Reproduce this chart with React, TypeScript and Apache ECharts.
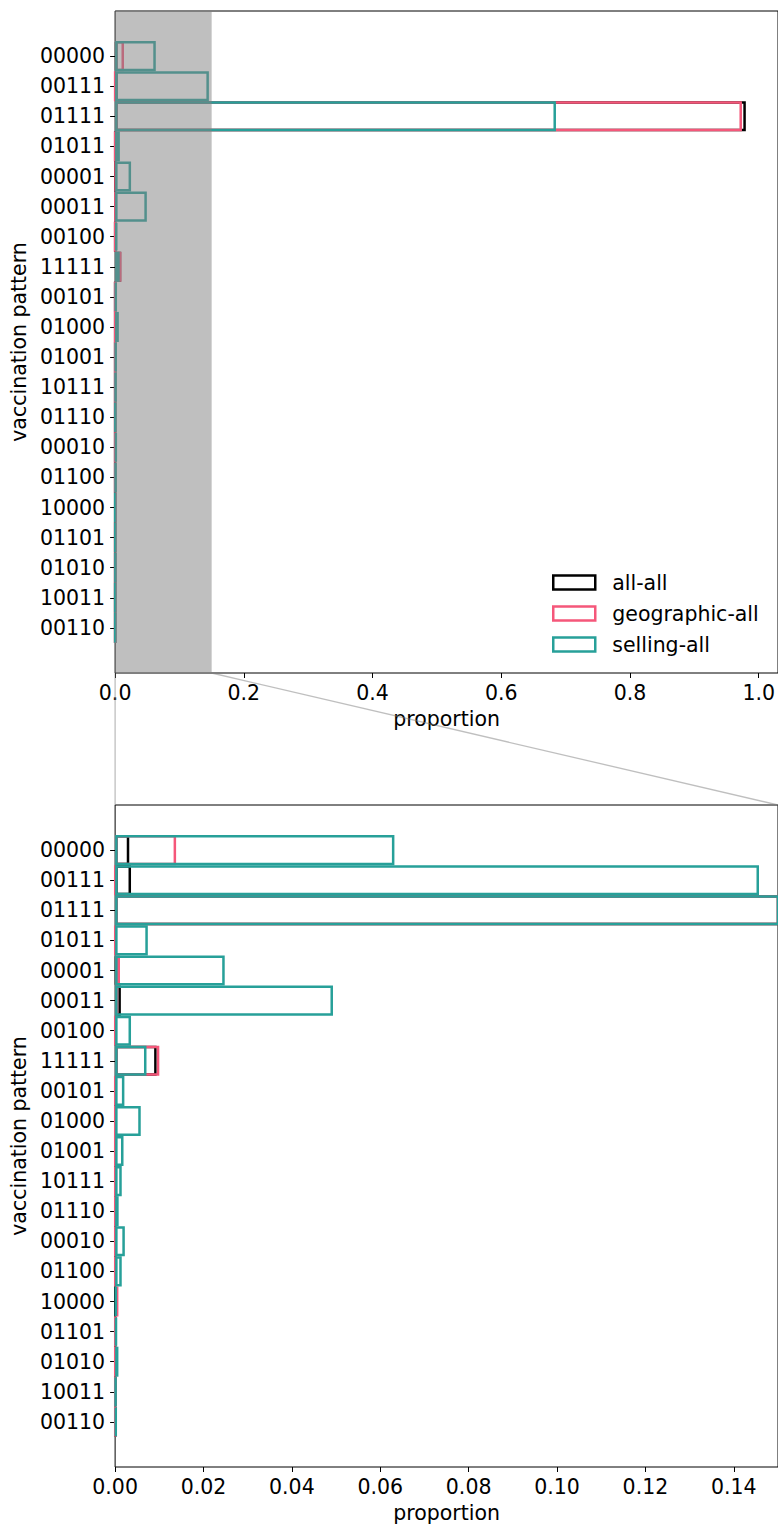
import React, { useEffect, useRef } from "react";
import * as echarts from "echarts";

// ---- data ----
const patterns = [
  "00000", "00111", "01111", "01011", "00001", "00011", "00100", "11111", "00101", "01000",
  "01001", "10111", "01110", "00010", "01100", "10000", "01101", "01010", "10011", "00110",
];
const allAll = [
  0.0032, 0.0036, 0.980, 0.0003, 0.0004, 0.0013, 0.0002, 0.0094, 0.0001, 0.0002,
  0.0001, 0.0001, 0.0001, 0.0001, 0.0001, 0.0001, 0.0001, 0.0001, 0.0001, 0.0001,
];
const geographicAll = [
  0.0138, 0.00005, 0.974, 0.00005, 0.0011, 0.0007, 0.00005, 0.0100, 0.00005, 0.00005,
  0.00005, 0.00005, 0.00005, 0.00005, 0.00005, 0.00075, 0.00005, 0.00005, 0.00005, 0.00005,
];
const sellingAll = [
  0.0632, 0.1457, 0.685, 0.0074, 0.0248, 0.0493, 0.0036, 0.0071, 0.0021, 0.0058,
  0.0019, 0.0015, 0.0008, 0.0022, 0.0015, 0.0003, 0.0004, 0.00075, 0.0002, 0.0003,
];
const topTicks = [0, 0.2, 0.4, 0.6, 0.8, 1.0];
const bottomTicks = [0, 0.02, 0.04, 0.06, 0.08, 0.1, 0.12, 0.14];
const topMax = 1.03;
const zoomMax = 0.15;

const seriesDefs = [
  { name: "all-all", data: allAll, color: "#000000" },
  { name: "geographic-all", data: geographicAll, color: "#F5577A" },
  { name: "selling-all", data: sellingAll, color: "#27A099" },
];

const FONT = "DejaVu Sans";
const FS = 20.5;
const GRID_LEFT = 114;
const GRID_W = 664;
const GRID_H = 662;
const TOP_Y = 11;
const BOT_Y = 805;

export default function App() {
  const ref = useRef<HTMLDivElement>(null);

  useEffect(() => {
    if (!ref.current) return;
    const chart = echarts.init(ref.current, undefined, { renderer: "svg" });

    // one empty category before and after gives matplotlib-like margins
    const categories = ["", ...patterns, ""];
    const pad = (arr: number[]) => [null, ...arr, null];

    const mkY = (gi: number) => ({
      type: "category",
      gridIndex: gi,
      data: categories,
      inverse: true,
      boundaryGap: true,
      axisLine: { show: false },
      axisTick: {
        show: true,
        alignWithLabel: true,
        length: 5,
        lineStyle: { color: "#000", width: 1 },
        interval: (i: number) => i > 0 && i < categories.length - 1,
      },
      axisLabel: { interval: 0, fontSize: FS, color: "#000", fontFamily: FONT, margin: 10 },
      splitLine: { show: false },
      name: "vaccination pattern",
      nameLocation: "middle",
      nameRotate: 90,
      nameGap: 84,
      nameTextStyle: { fontSize: FS, color: "#000", fontFamily: FONT },
    });

    const mkX = (gi: number, max: number, ticks: number[], digits: number) => ({
      type: "value",
      gridIndex: gi,
      min: 0,
      max,
      axisLine: { show: false },
      axisTick: { show: true, length: 5, lineStyle: { color: "#000", width: 1 }, customValues: ticks },
      axisLabel: {
        customValues: ticks,
        formatter: (v: number) => v.toFixed(digits),
        fontSize: FS,
        color: "#000",
        fontFamily: FONT,
        margin: 9,
      },
      splitLine: { show: false },
      name: "proportion",
      nameLocation: "middle",
      nameGap: 35,
      nameTextStyle: { fontSize: FS, color: "#000", fontFamily: FONT },
    });

    const series: any[] = [];
    [0, 1].forEach((gi) => {
      seriesDefs.forEach((s) => {
        series.push({
          type: "bar",
          name: s.name,
          xAxisIndex: gi,
          yAxisIndex: gi,
          data: pad(s.data),
          barGap: "-100%",
          barCategoryGap: "0%",
          clip: true,
          itemStyle: { color: "rgba(0,0,0,0)", borderColor: s.color, borderWidth: 2.5 },
          emphasis: { disabled: true },
        });
      });
    });

    chart.setOption({
      animation: false,
      grid: [
        { left: GRID_LEFT, top: TOP_Y, width: GRID_W, height: GRID_H, show: true, borderColor: "#000", borderWidth: 1, backgroundColor: "transparent" },
        { left: GRID_LEFT, top: BOT_Y, width: GRID_W, height: GRID_H, show: true, borderColor: "#000", borderWidth: 1, backgroundColor: "transparent" },
      ],
      xAxis: [mkX(0, topMax, topTicks, 1), mkX(1, zoomMax, bottomTicks, 2)],
      yAxis: [mkY(0), mkY(1)],
      legend: {
        orient: "vertical",
        left: 547,
        top: 567,
        itemWidth: 42,
        itemHeight: 14,
        itemGap: 10,
        icon: "rect",
        selectedMode: false,
        textStyle: { fontSize: FS, fontFamily: FONT, color: "#000", lineHeight: 20, padding: [0, 0, 0, 12] },
        data: seriesDefs.map((s) => ({
          name: s.name,
          itemStyle: { color: "rgba(0,0,0,0)", borderColor: s.color, borderWidth: 2.5 },
        })),
      },
      series,
    });

    const x0 = chart.convertToPixel({ xAxisIndex: 0 }, 0) as number;
    const x1 = chart.convertToPixel({ xAxisIndex: 0 }, zoomMax) as number;
    const bx0 = chart.convertToPixel({ xAxisIndex: 1 }, 0) as number;
    const bx1 = chart.convertToPixel({ xAxisIndex: 1 }, zoomMax) as number;
    const connStyle = { stroke: "rgba(128,128,128,0.5)", lineWidth: 1.3 };
    chart.setOption({
      graphic: [
        {
          type: "rect",
          z: 100,
          silent: true,
          shape: { x: x0, y: TOP_Y, width: x1 - x0, height: GRID_H },
          style: { fill: "rgba(128,128,128,0.5)" },
        },
        {
          type: "line",
          z: 100,
          silent: true,
          shape: { x1: x0, y1: TOP_Y + GRID_H, x2: bx0, y2: BOT_Y },
          style: connStyle,
        },
        {
          type: "line",
          z: 100,
          silent: true,
          shape: { x1: x1, y1: TOP_Y + GRID_H, x2: bx1, y2: BOT_Y },
          style: connStyle,
        },
      ],
    });

    return () => chart.dispose();
  }, []);

  return (
    <div
      ref={ref}
      style={{ position: "absolute", left: 0, top: 0, width: 778, height: 1528, background: "#fff" }}
    />
  );
}
